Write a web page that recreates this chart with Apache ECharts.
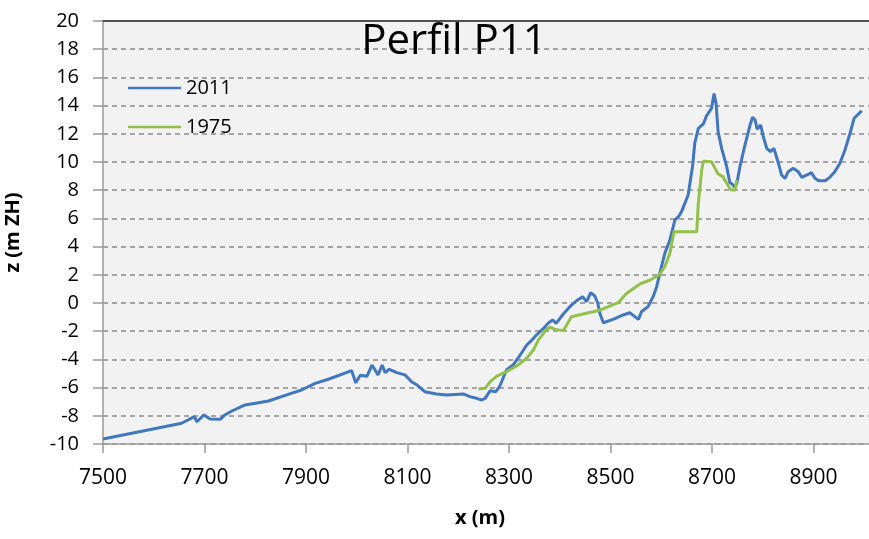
<!DOCTYPE html>
<html>
<head>
<meta charset="utf-8">
<title>Perfil P11</title>
<script src="https://cdn.jsdelivr.net/npm/echarts@6/dist/echarts.min.js"></script>
<style>
  html, body { margin: 0; padding: 0; background: #fff; }
  #chart { width: 869px; height: 539px; }
</style>
</head>
<body>
<div id="chart"></div>
<script>
// perfil 2011 (x em m, z em m ZH)
const x2011 = [7500, 7655, 7680, 7685, 7699, 7711, 7731, 7740, 7754, 7780, 7806, 7826, 7865, 7891, 7918, 7944,
  7990, 7998, 8007, 8020, 8030, 8042, 8050, 8056, 8064, 8079, 8095, 8108, 8119, 8134, 8157, 8177,
  8210, 8223, 8236, 8246, 8253, 8263, 8274, 8282, 8295, 8308, 8322, 8335, 8344, 8354, 8368, 8377,
  8386, 8393, 8407, 8420, 8433, 8445, 8453, 8461, 8469, 8475, 8479, 8486, 8505, 8525, 8538, 8548,
  8555, 8561, 8574, 8584, 8591, 8598, 8607, 8617, 8627, 8634, 8640, 8653, 8662, 8666, 8673, 8683,
  8689, 8699, 8704, 8708, 8712, 8719, 8729, 8735, 8739, 8745, 8749, 8755, 8765, 8775, 8780, 8785,
  8789, 8796, 8801, 8808, 8815, 8822, 8830, 8837, 8844, 8850, 8860, 8870, 8877, 8887, 8896, 8903,
  8910, 8923, 8932, 8942, 8952, 8962, 8972, 8980, 8988, 8995]
const z2011 = [-9.65, -8.53, -8.06, -8.42, -7.94, -8.23, -8.25, -7.94, -7.66, -7.23, -7.07, -6.95, -6.48, -6.17, -5.70, -5.41,
  -4.80, -5.65, -5.12, -5.20, -4.40, -5.10, -4.40, -4.94, -4.70, -4.94, -5.10, -5.58, -5.82, -6.29, -6.45, -6.52,
  -6.45, -6.64, -6.76, -6.88, -6.76, -6.22, -6.29, -5.89, -4.75, -4.40, -3.69, -2.98, -2.67, -2.27, -1.80, -1.44,
  -1.20, -1.44, -0.78, -0.26, 0.16, 0.45, 0.09, 0.73, 0.50, -0.02, -0.73, -1.40, -1.16, -0.85, -0.69, -0.97,
  -1.16, -0.62, -0.26, 0.45, 1.16, 2.22, 3.52, 4.47, 5.89, 6.12, 6.48, 7.66, 9.79, 11.33, 12.39, 12.70,
  13.26, 13.80, 14.85, 14.16, 12.15, 10.97, 9.67, 8.55, 8.45, 8.20, 8.49, 9.67, 11.21, 12.62, 13.17, 12.98,
  12.32, 12.62, 11.79, 10.97, 10.73, 10.97, 10.02, 9.08, 8.84, 9.31, 9.55, 9.31, 8.91, 9.08, 9.24, 8.84,
  8.67, 8.67, 8.91, 9.31, 9.91, 10.85, 12.04, 13.10, 13.38, 13.64]

// perfil 1975
const x1975 = [8240, 8253, 8263, 8276, 8295, 8315, 8335, 8348, 8358, 8374, 8381, 8391, 8407, 8423, 8446, 8466,
  8479, 8515, 8532, 8558, 8578, 8596, 8607, 8617, 8625, 8670, 8673, 8680, 8683, 8699, 8706, 8712,
  8721, 8729, 8737, 8745, 8749]
const z1975 = [-6.10, -6.05, -5.58, -5.18, -4.87, -4.47, -3.92, -3.33, -2.62, -1.87, -1.72, -1.87, -1.96, -0.97, -0.78, -0.62,
  -0.50, 0.02, 0.69, 1.35, 1.63, 1.99, 2.58, 3.52, 5.06, 5.06, 7.07, 9.50, 10.05, 10.02, 9.55, 9.15,
  8.98, 8.49, 8.03, 8.00, 8.72]

const xTicks = [7500, 7700, 7900, 8100, 8300, 8500, 8700, 8900, 9100]
const zTicks = [-10, -8, -6, -4, -2, 0, 2, 4, 6, 8, 10, 12, 14, 16, 18, 20]

const pairs = (xs, zs) => xs.map((x, i) => [x, zs[i]])

const font = '"Open Sans", "Noto Sans", sans-serif'
const chart = echarts.init(document.getElementById('chart'))

chart.setOption({
  backgroundColor: '#fff',
  animation: false,
  textStyle: { fontFamily: font },
  title: {
    text: 'Perfil P11',
    left: 449,
    top: 16,
    textAlign: 'center',
    textStyle: { fontFamily: font, fontSize: 42, fontWeight: 'normal', color: '#000' }
  },
  legend: {
    orient: 'vertical',
    left: 128,
    top: 78,
    padding: 0,
    icon: 'rect',
    itemWidth: 53,
    itemHeight: 2.5,
    itemGap: 19,
    textStyle: { fontFamily: font, fontSize: 20, color: '#000', lineHeight: 20 },
    data: ['2011', '1975']
  },
  // a area do gráfico continua para lá da borda direita
  grid: {
    left: 103,
    top: 21,
    width: 812,
    height: 423,
    outerBoundsMode: 'none',
    containLabel: false,
    show: true,
    backgroundColor: '#f2f2f2',
    borderWidth: 0
  },
  xAxis: [
    {
      type: 'value',
      min: xTicks[0],
      max: xTicks[xTicks.length - 1],
      interval: 200,
      name: 'x (m)',
      nameLocation: 'middle',
      nameGap: 64,
      nameTextStyle: { fontFamily: font, fontSize: 20, fontWeight: 'bold', color: '#000', padding: [0, 58, 0, 0] },
      axisLine: { onZero: false, lineStyle: { color: '#9a9a9a', width: 1.5 } },
      axisTick: { show: true, inside: false, length: 9, lineStyle: { color: '#9a9a9a', width: 1.5 } },
      axisLabel: { margin: 24, fontSize: 21, color: '#000', fontFamily: font, formatter: v => String(v) },
      splitLine: { show: false },
      minorSplitLine: { show: false }
    },
    {
      // borda superior
      type: 'value',
      position: 'top',
      min: xTicks[0],
      max: xTicks[xTicks.length - 1],
      axisLine: { show: true, onZero: false, lineStyle: { color: '#505050', width: 2 } },
      axisTick: { show: false },
      axisLabel: { show: false },
      splitLine: { show: false }
    }
  ],
  yAxis: {
    type: 'value',
    min: zTicks[0],
    max: zTicks[zTicks.length - 1],
    interval: 2,
    name: 'z (m ZH)',
    nameLocation: 'middle',
    nameGap: 80,
    nameTextStyle: { fontFamily: font, fontSize: 20, fontWeight: 'bold', color: '#000' },
    axisLine: { show: true, onZero: false, lineStyle: { color: '#9a9a9a', width: 1.5 } },
    axisTick: { show: true, inside: false, length: 10, lineStyle: { color: '#9a9a9a', width: 1.5 } },
    axisLabel: { margin: 24, fontSize: 20, color: '#000', fontFamily: font },
    splitLine: { show: true, lineStyle: { color: '#8c8c8c', width: 1.5, type: [5, 4] } }
  },
  series: [
    {
      name: '2011',
      type: 'line',
      symbol: 'none',
      color: '#4077c0',
      lineStyle: { color: '#4077c0', width: 3 },
      data: pairs(x2011, z2011)
    },
    {
      name: '1975',
      type: 'line',
      symbol: 'none',
      color: '#92c04a',
      lineStyle: { color: '#92c04a', width: 3 },
      data: pairs(x1975, z1975)
    }
  ]
})
</script>
</body>
</html>
